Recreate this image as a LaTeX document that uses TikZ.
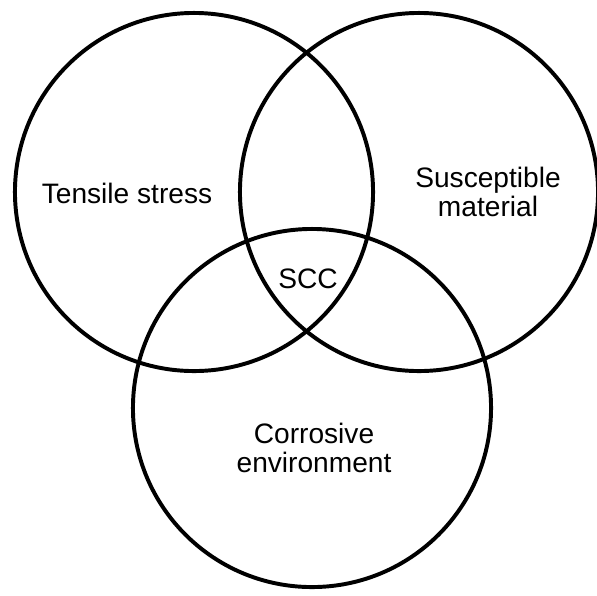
\documentclass[tikz,border=0pt]{standalone}
\usepackage{fontspec}
\setmainfont{Liberation Sans}
\usetikzlibrary{positioning}
\begin{document}
\begin{tikzpicture}
    \tikzset{
        ring/.style={
            circle,
            minimum size=8.95cm,
            inner sep=0mm,
            outer sep=0mm,
            line width=2.8pt,
            draw
        },
        tag/.style={
            align=center,
            inner sep=0mm,
            font=\fontsize{20}{21}\selectfont
        },
        x={(0.025cm,0cm)},
        y={(0cm,-0.025cm)}
    }
    \useasboundingbox (0,0) rectangle (597,595);
    % draw the three rings
    \node[ring] (stress) at (194,192) {};
    \node[ring] (material) at (419,192) {};
    \node[ring] (environment) at (312,408) {};
    % draw the labels
    \node[tag] (stresstxt) at (127,193) {Tensile stress};
    \node[tag] (materialtxt) at (488,192) {Susceptible\\material};
    \node[tag] (scc) at (308,279) {SCC};
    \node[tag] (environmenttxt) at (314,448) {Corrosive\\environment};
\end{tikzpicture}
\end{document}
